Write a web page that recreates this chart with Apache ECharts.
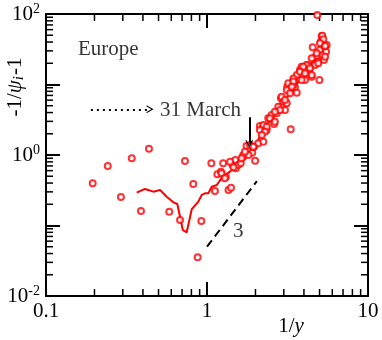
<!DOCTYPE html>
<html>
<head>
<meta charset="utf-8">
<script src="https://cdn.jsdelivr.net/npm/echarts@6/dist/echarts.min.js"></script>
<style>
html, body { margin: 0; padding: 0; background: #fff; }
#chart { width: 382px; height: 340px; }
</style>
</head>
<body>
<div id="chart"></div>
<script>
// Europe: open circles (daily values) and smoothed line
var scatterX = [0.195, 0.242, 0.292, 0.341, 0.389, 0.436, 0.583, 0.680, 0.730, 0.822, 0.922, 0.875,
    1.064, 1.12, 1.16, 1.22, 1.26, 1.31, 1.36, 1.41, 1.44, 1.50, 1.51, 1.56, 1.62, 1.68, 1.76, 1.85,
    1.91, 1.99, 1.96, 2.08, 2.24, 2.13, 2.24, 2.35, 2.40, 2.52, 2.61, 2.71, 2.81, 2.91, 2.88, 2.98,
    3.05, 3.13, 3.31, 3.15, 3.28, 3.41, 3.52, 3.61, 3.47, 3.78, 3.87, 3.96, 4.06, 4.20, 4.32, 4.47,
    4.53, 4.62, 4.69, 4.80, 4.91, 4.99, 5.03, 5.09, 5.16, 5.23, 5.33, 5.41, 5.49, 5.54, 4.84,
    4.06, 4.36, 4.69, 3.61, 3.44, 3.20, 3.44, 3.13, 3.28, 2.91, 3.05, 2.77, 2.84, 2.64, 2.46, 2.64,
    2.24, 2.35, 2.13, 2.29, 5.20, 5.28, 5.03, 5.41, 4.80, 5.41, 4.47, 4.16, 4.91, 3.96, 4.36, 3.78,
    4.06, 4.47, 3.87, 3.44, 3.36, 2.19, 1.94, 1.68, 1.64, 1.46, 1.39, 1.23, 1.29, 1.81, 1.72];
var scatterY = [0.397, 0.698, 0.254, 0.898, 0.161, 1.23, 0.157, 0.120, 0.822, 0.388, 0.116, 0.0354,
    0.762, 0.309, 0.532, 0.580, 0.762, 0.492, 0.319, 0.344, 0.721, 0.849, 0.648, 0.721, 0.762, 0.946, 1.34, 1.39,
    1.08, 0.830, 1.31, 1.47, 1.54, 2.58, 2.58, 2.26, 3.32, 3.69, 2.75, 3.90, 4.35, 4.95, 6.37, 5.70,
    4.35, 5.41, 2.31, 9.31, 8.36, 10.4, 9.12, 7.65, 11.9, 16.1, 17.9, 13.2, 11.6, 18.9, 16.1, 12.9,
    33.7, 23.5, 20.0, 25.4, 21.1, 11.6, 30.8, 40.5, 48.7, 26.2, 22.3, 34.4, 29.2, 36.3, 96.8,
    17.0, 17.9, 18.9, 13.6, 12.2, 10.4, 9.84, 8.36, 7.50, 6.71, 6.03, 4.84, 4.35, 4.11, 3.32, 2.97,
    2.66, 2.52, 2.26, 2.14, 49.2, 43.8, 38.4, 35.2, 27.7, 24.8, 23.5, 18.9, 20.0, 17.9, 17.0, 15.2,
    14.4, 13.6, 11.6, 11.0, 9.31, 1.92, 1.31, 1.00, 0.898, 0.669, 0.804, 0.550, 0.467, 1.00, 1.11];

var lineX = [0.366, 0.412, 0.464, 0.511, 0.562, 0.618, 0.654, 0.680, 0.707, 0.748, 0.766, 0.804,
    0.830, 0.883, 0.927, 0.972, 1.02, 1.07, 1.15, 1.23, 1.29, 1.39, 1.49, 1.60, 1.72, 1.83, 1.94,
    2.08, 2.19, 2.29, 2.44, 2.64, 2.84, 3.05, 3.28, 3.52, 3.78, 4.06, 4.36, 4.69, 5.03, 5.33];
var lineY = [0.292, 0.330, 0.302, 0.319, 0.256, 0.213, 0.202, 0.133, 0.0863, 0.080, 0.080, 0.170,
    0.185, 0.218, 0.271, 0.286, 0.286, 0.355, 0.375, 0.467, 0.520, 0.580, 0.683, 0.778, 0.946, 1.11, 1.31,
    1.63, 2.03, 2.58, 2.97, 3.69, 4.84, 6.03, 7.50, 9.31, 11.6, 15.2, 18.9, 23.5, 30.8, 36.3];

// slope-3 guide line
var slopeX = [1.0, 2.04];
var slopeY = [0.05, 0.425];

// annotations
var dottedX = [0.19, 0.443];
var dottedY = 4.45;
var marchArrowX = 1.83;
var marchArrowY = [3.43, 1.44];

var xMinor = [0.2, 0.3, 0.4, 0.5, 0.6, 0.7, 0.8, 0.9, 2, 3, 4, 5, 6, 7, 8, 9];
var yMinor = [0.02, 0.03, 0.04, 0.05, 0.06, 0.07, 0.08, 0.09, 0.2, 0.3, 0.4, 0.5, 0.6, 0.7, 0.8, 0.9,
    2, 3, 4, 5, 6, 7, 8, 9, 20, 30, 40, 50, 60, 70, 80, 90];
var xTickLabels = {0.1: '0.1', 1: '1', 10: '10'};

var serif = 'Liberation Serif';
var chevron = 'path://M0,10 L5,0 L10,10 L8.4,10 L5,3.2 L1.6,10 Z';

function zip(xs, ys) {
    return xs.map(function (x, i) { return [x, ys[i]]; });
}

function minorTicks(vals, dir) {
    return {
        type: 'custom',
        silent: true,
        z: 1,
        data: vals.map(function (v) { return dir === 'x' ? [v, 1] : [1, v]; }),
        renderItem: function (params, api) {
            var cs = params.coordSys;
            var p = api.coord([api.value(0), api.value(1)]);
            var st = {stroke: '#000', lineWidth: 1.5};
            var len = 7;
            if (dir === 'x') {
                var b = cs.y + cs.height;
                return {type: 'group', children: [
                    {type: 'line', shape: {x1: p[0], y1: b, x2: p[0], y2: b - len}, style: st},
                    {type: 'line', shape: {x1: p[0], y1: cs.y, x2: p[0], y2: cs.y + len}, style: st}
                ]};
            }
            var r = cs.x + cs.width;
            return {type: 'group', children: [
                {type: 'line', shape: {x1: cs.x, y1: p[1], x2: cs.x + len, y2: p[1]}, style: st},
                {type: 'line', shape: {x1: r, y1: p[1], x2: r - len, y2: p[1]}, style: st}
            ]};
        }
    };
}

var axisCommon = {
    type: 'log',
    logBase: 10,
    splitLine: {show: false},
    axisLine: {onZero: false, lineStyle: {color: '#000', width: 2}},
    axisTick: {inside: true, length: 14, lineStyle: {color: '#000', width: 2}}
};

var chart = echarts.init(document.getElementById('chart'));
var option = {
    animation: false,
    backgroundColor: '#fff',
    grid: {left: 46, right: 14, top: 14, bottom: 44},
    xAxis: [
        Object.assign({}, axisCommon, {
            min: 0.1, max: 10, position: 'bottom',
            axisLabel: {
                margin: 5, color: '#000', fontFamily: serif, fontSize: 21,
                formatter: function (v) { return xTickLabels[v] || ''; }
            }
        }),
        Object.assign({}, axisCommon, {
            min: 0.1, max: 10, position: 'top', axisLabel: {show: false}
        })
    ],
    yAxis: [
        Object.assign({}, axisCommon, {
            min: 0.01, max: 100, position: 'left',
            axisLabel: {
                margin: 6, color: '#000',
                formatter: function (v) {
                    var e = Math.round(Math.log10(v));
                    if (e % 2 !== 0) return '';
                    return '{b|10}{s|' + e + '}';
                },
                rich: {
                    b: {fontFamily: serif, fontSize: 21, lineHeight: 24, color: '#000'},
                    s: {fontFamily: serif, fontSize: 14, lineHeight: 24, verticalAlign: 'top', padding: [0, 0, 10, 0], color: '#000'}
                }
            }
        }),
        Object.assign({}, axisCommon, {
            min: 0.01, max: 100, position: 'right', axisLabel: {show: false}
        })
    ],
    graphic: [
        {
            type: 'text', x: 15, y: 87, rotation: Math.PI / 2,
            style: {
                text: '{a|-1/}{p|ψ}{i|i}{a|-1}',
                align: 'center', verticalAlign: 'middle',
                rich: {
                    a: {fontFamily: serif, fontSize: 21, lineHeight: 24, fill: '#000'},
                    p: {fontFamily: serif, fontSize: 21, fontStyle: 'italic', lineHeight: 24, fill: '#000'},
                    i: {fontFamily: serif, fontSize: 15, fontStyle: 'italic', lineHeight: 24, verticalAlign: 'bottom', padding: [8, 1, 0, 0], fill: '#000'}
                }
            }
        },
        {
            type: 'text', x: 291, y: 326,
            style: {
                text: '{a|1/}{i|y}',
                align: 'center', verticalAlign: 'middle',
                rich: {
                    a: {fontFamily: serif, fontSize: 21, fill: '#000'},
                    i: {fontFamily: serif, fontSize: 21, fontStyle: 'italic', fill: '#000'}
                }
            }
        }
    ],
    series: [
        minorTicks(xMinor, 'x'),
        minorTicks(yMinor, 'y'),
        {
            name: 'smoothed',
            type: 'line',
            data: zip(lineX, lineY),
            showSymbol: false,
            symbol: 'none',
            lineStyle: {color: '#ff0000', width: 2},
            z: 3
        },
        {
            name: 'Europe',
            type: 'scatter',
            data: zip(scatterX, scatterY),
            symbol: 'emptyCircle',
            symbolSize: 6,
            itemStyle: {color: '#ff0000', borderColor: '#ff0000', borderWidth: 1.2},
            z: 4
        },
        {
            name: 'slope',
            type: 'line',
            data: zip(slopeX, slopeY),
            symbol: 'none',
            lineStyle: {color: '#000', width: 2, type: [8, 5]},
            z: 3
        },
        {
            name: 'arrows',
            type: 'line',
            data: [],
            markLine: {
                silent: true,
                symbol: ['none', chevron],
                symbolSize: [8, 7],
                label: {show: false},
                data: [
                    [
                        {coord: [dottedX[0], dottedY], lineStyle: {color: '#000', width: 2, type: [2, 4]}},
                        {coord: [dottedX[1], dottedY]}
                    ],
                    [
                        {coord: [marchArrowX, marchArrowY[0]], lineStyle: {color: '#000', width: 2, type: 'solid'}, symbolSize: [9, 10]},
                        {coord: [marchArrowX, marchArrowY[1]]}
                    ]
                ]
            }
        },
        {
            name: 'labels',
            type: 'scatter',
            symbolSize: 0,
            silent: true,
            data: [
                {value: [0.158, 31.4], label: {formatter: 'Europe'}},
                {value: [0.511, 4.35], label: {formatter: '31 March'}},
                {value: [1.45, 0.081], label: {formatter: '3'}}
            ],
            label: {
                show: true, position: 'right', distance: 0,
                fontFamily: serif, fontSize: 21, color: '#000'
            }
        }
    ]
};
chart.setOption(option);
window.onresize = chart.resize;
</script>
</body>
</html>
